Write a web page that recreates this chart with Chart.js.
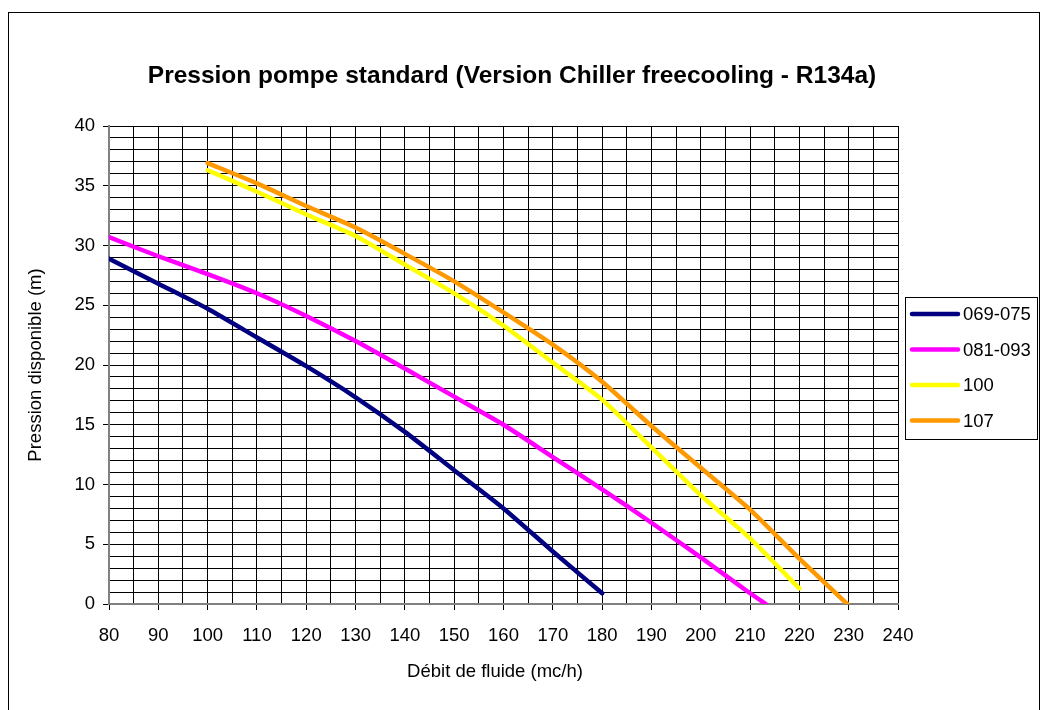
<!DOCTYPE html>
<html>
<head>
<meta charset="utf-8">
<script src="https://cdn.jsdelivr.net/npm/chart.js@4.4.1/dist/chart.umd.min.js"></script>
<style>
html,body{margin:0;padding:0;background:#fff;}
</style>
</head>
<body>
<canvas id="ctx" width="1048" height="710"></canvas>
<script>
// pump curves: flow (mc/h) vs available pressure (m)
var debit_069 = [80, 90, 100, 110, 120, 130, 140, 150, 160, 170, 180];
var press_069 = [28.9, 26.8, 24.7, 22.3, 19.9, 17.3, 14.4, 11.2, 8.0, 4.4, 0.9];

var debit_081 = [80, 90, 100, 110, 120, 130, 140, 150, 160, 170, 180, 190, 200, 210, 213.2];
var press_081 = [30.7, 29.1, 27.6, 26.0, 24.1, 22.0, 19.7, 17.35, 15.0, 12.3, 9.6, 6.8, 3.9, 0.9, 0];

var debit_100 = [100, 110, 120, 130, 140, 150, 160, 170, 180, 190, 200, 210, 220];
var press_100 = [36.3, 34.5, 32.6, 30.8, 28.4, 26.0, 23.3, 20.2, 17.1, 13.1, 9.1, 5.5, 1.3];

var debit_107 = [100, 110, 120, 130, 140, 150, 160, 170, 180, 190, 200, 210, 220, 229.7];
var press_107 = [36.9, 35.2, 33.3, 31.5, 29.3, 27.0, 24.4, 21.7, 18.6, 14.9, 11.4, 7.9, 3.8, 0];

var seriesNames = ['069-075', '081-093', '100', '107'];
var seriesColors = ['#000080', '#FF00FF', '#FFFF00', '#FF9900'];

var xMin = 80, xMax = 240, xLabelStep = 10, xGridStep = 5;
var yMin = 0, yMax = 40, yLabelStep = 5, yGridStep = 1;

var chartTitle = 'Pression pompe standard (Version Chiller freecooling - R134a)';
var xTitle = 'Débit de fluide (mc/h)';
var yTitle = 'Pression disponible (m)';

var FONT = '"Liberation Sans", Arial, Helvetica, sans-serif';

function toPoints(xs, ys){
	var pts = [];
	for (var i = 0; i < xs.length; i++){
		pts.push({x: xs[i], y: ys[i]});
	}
	return pts;
}

var allX = [debit_069, debit_081, debit_100, debit_107];
var allY = [press_069, press_081, press_100, press_107];

var datasets = [];
for (var i = 0; i < seriesNames.length; i++){
	datasets.push({
		label: seriesNames[i],
		data: toPoints(allX[i], allY[i]),
		borderColor: seriesColors[i],
		backgroundColor: seriesColors[i],
		borderWidth: 4.5,
		borderCapStyle: 'round',
		borderJoinStyle: 'round',
		pointRadius: 0,
		tension: 0.2,
		fill: false
	});
}

// frame, titles and boxed legend
var decor = {
	id: 'decor',
	beforeDraw: function(chart){
		var c = chart.ctx;
		c.save();
		c.fillStyle = '#fff';
		c.fillRect(0, 0, chart.width, chart.height);
		c.restore();
	},
	afterDraw: function(chart){
		var c = chart.ctx;
		c.save();
		c.strokeStyle = '#000';
		c.lineWidth = 1;
		c.strokeRect(8.5, 12.5, 1031, 702);

		c.fillStyle = '#000';
		c.textAlign = 'center';
		c.textBaseline = 'middle';
		c.font = 'bold 24.5px ' + FONT;
		c.fillText(chartTitle, 512, 76);

		c.font = '18.5px ' + FONT;
		c.fillText(xTitle, 495, 672);

		// legend
		c.strokeRect(905.5, 297.5, 132, 142);
		var ds = chart.data.datasets;
		c.textAlign = 'left';
		for (var i = 0; i < ds.length; i++){
			var y = 314 + i * 35.5;
			c.beginPath();
			c.strokeStyle = ds[i].borderColor;
			c.lineWidth = 4.5;
			c.lineCap = 'round';
			c.moveTo(912, y);
			c.lineTo(958, y);
			c.stroke();
			c.fillStyle = '#000';
			c.fillText(ds[i].label, 963, y + 1);
		}
		c.restore();
	}
};

var pressureChart = new Chart(document.getElementById('ctx'), {
	type: 'line',
	data: { datasets: datasets },
	plugins: [decor],
	options: {
		responsive: false,
		animation: false,
		devicePixelRatio: 1,
		layout: { padding: { top: 126, right: 150, bottom: 0, left: 0 } },
		plugins: {
			legend: { display: false },
			title: { display: false },
			tooltip: { enabled: false }
		},
		scales: {
			x: {
				type: 'linear',
				min: xMin,
				max: xMax,
				afterFit: function(s){ s.height = 106; },
				ticks: {
					stepSize: xGridStep,
					autoSkip: false,
					maxRotation: 0,
					padding: 15,
					color: '#000',
					font: { family: FONT, size: 18.5 },
					callback: function(v){ return v % xLabelStep === 0 ? v : ''; }
				},
				grid: {
					color: '#000',
					lineWidth: 1,
					tickLength: 6,
					tickColor: function(ctx){
						return (ctx.tick && ctx.tick.value % xLabelStep === 0) ? '#000' : 'rgba(0,0,0,0)';
					}
				},
				border: { color: '#808080', width: 2 }
			},
			y: {
				min: yMin,
				max: yMax,
				afterFit: function(s){ s.width = 109; },
				ticks: {
					stepSize: yGridStep,
					autoSkip: false,
					padding: 8,
					color: '#000',
					font: { family: FONT, size: 18.5 },
					callback: function(v){ return v % yLabelStep === 0 ? v : ''; }
				},
				grid: {
					color: '#000',
					lineWidth: 1,
					tickLength: 6,
					tickColor: function(ctx){
						return (ctx.tick && ctx.tick.value % yLabelStep === 0) ? '#000' : 'rgba(0,0,0,0)';
					}
				},
				border: { color: '#808080', width: 2 },
				title: {
					display: true,
					text: yTitle,
					color: '#000',
					font: { family: FONT, size: 18.5 },
					padding: { top: 25, bottom: 0 }
				}
			}
		}
	}
});
</script>
</body>
</html>
